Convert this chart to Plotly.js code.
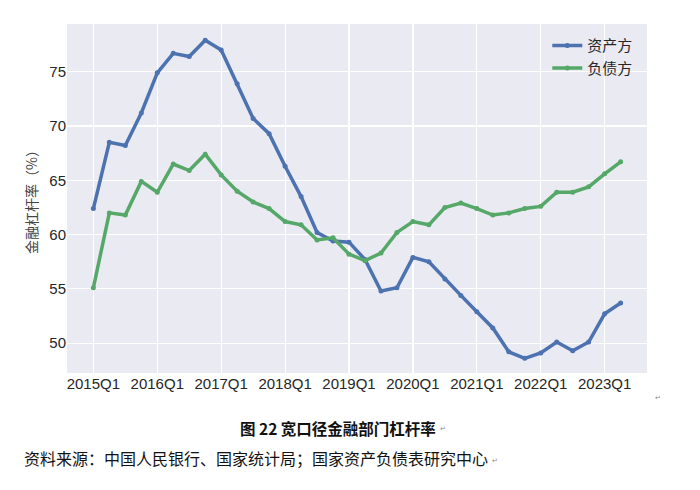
<!DOCTYPE html>
<html>
<head>
<meta charset="utf-8">
<script src="https://cdn.plot.ly/plotly-3.0.1.min.js"></script>
<style>html,body{margin:0;padding:0;background:#fff;}#chart{width:700px;height:490px;}</style>
</head>
<body>
<div id="chart"></div>
<script>
const quarters = ["2015Q1","2015Q2","2015Q3","2015Q4","2016Q1","2016Q2","2016Q3","2016Q4",
"2017Q1","2017Q2","2017Q3","2017Q4","2018Q1","2018Q2","2018Q3","2018Q4",
"2019Q1","2019Q2","2019Q3","2019Q4","2020Q1","2020Q2","2020Q3","2020Q4",
"2021Q1","2021Q2","2021Q3","2021Q4","2022Q1","2022Q2","2022Q3","2022Q4",
"2023Q1","2023Q2"];
const assetSide = [62.4,68.5,68.2,71.2,74.9,76.7,76.4,77.9,77.0,73.9,70.7,69.3,66.3,63.5,60.2,59.4,
59.3,57.7,54.8,55.1,57.9,57.5,55.9,54.4,52.9,51.4,49.2,48.6,49.1,50.1,49.3,50.1,52.7,53.7];
const liabilitySide = [55.1,62.0,61.8,64.9,63.9,66.5,65.9,67.4,65.5,64.0,63.0,62.4,61.2,60.9,59.5,59.7,
58.2,57.6,58.3,60.2,61.2,60.9,62.5,62.9,62.4,61.8,62.0,62.4,62.6,63.9,63.9,64.4,65.6,66.7];
const seriesNames = ["资产方","负债方"];
const tickLabels = ["2015Q1","2016Q1","2017Q1","2018Q1","2019Q1","2020Q1","2021Q1","2022Q1","2023Q1"];
const yTicks = [50,55,60,65,70,75];
const yTitle = "金融杠杆率（%）";
const caption = "图 22 宽口径金融部门杠杆率";
const source = "资料来源：中国人民银行、国家统计局；国家资产负债表研究中心";

const cjk = '"Noto Sans CJK SC", sans-serif';
const latin = '"Liberation Sans", Arial, sans-serif';

const traces = [
  {x: quarters, y: assetSide, name: seriesNames[0], type: 'scatter', mode: 'lines+markers',
   line: {color: '#4C72B0', width: 3.5}, marker: {color: '#4C72B0', size: 5}},
  {x: quarters, y: liabilitySide, name: seriesNames[1], type: 'scatter', mode: 'lines+markers',
   line: {color: '#55A868', width: 3.5}, marker: {color: '#55A868', size: 5}}
];

const layout = {
  width: 700, height: 490,
  margin: {l: 67, r: 53, t: 24, b: 117},
  paper_bgcolor: '#ffffff',
  plot_bgcolor: '#EAEAF2',
  showlegend: true,
  legend: {x: 0.985, y: 0.985, xanchor: 'right', yanchor: 'top', bgcolor: 'rgba(0,0,0,0)',
    font: {family: cjk, size: 15, color: '#262626'}, tracegroupgap: 0},
  xaxis: {
    type: 'category', range: [-1.65, 34.65],
    tickmode: 'array', tickvals: tickLabels, ticktext: tickLabels,
    showgrid: true, gridcolor: '#ffffff', gridwidth: 1.2, zeroline: false,
    showline: false, ticks: '', ticklen: 0,
    tickfont: {family: latin, size: 15, color: '#262626'}
  },
  yaxis: {
    range: [47.25, 79.4], tickmode: 'array', tickvals: yTicks,
    showgrid: true, gridcolor: '#ffffff', gridwidth: 1.2, zeroline: false,
    showline: false, ticks: '',
    tickfont: {family: latin, size: 15, color: '#262626'},
    title: {text: yTitle, font: {family: cjk, size: 14, color: '#444'}, standoff: 8}
  },
  annotations: [
    {xref: 'paper', yref: 'paper', x: 0.4675, y: -0.158, xanchor: 'center', yanchor: 'middle',
     text: '<b>' + caption + '</b>', showarrow: false, font: {family: cjk, size: 15.5, color: '#111'}},
    {xref: 'paper', yref: 'paper', x: -0.077, y: -0.244, xanchor: 'left', yanchor: 'middle',
     text: source, showarrow: false, font: {family: cjk, size: 16, color: '#111'}},
    {xref: 'paper', yref: 'paper', x: 1.01, y: -0.07, xanchor: 'left', yanchor: 'middle',
     text: '↵', showarrow: false, font: {family: latin, size: 7, color: '#888'}},
    {xref: 'paper', yref: 'paper', x: 0.64, y: -0.16, xanchor: 'left', yanchor: 'middle',
     text: '↵', showarrow: false, font: {family: latin, size: 7, color: '#888'}},
    {xref: 'paper', yref: 'paper', x: 0.729, y: -0.25, xanchor: 'left', yanchor: 'middle',
     text: '↵', showarrow: false, font: {family: latin, size: 7, color: '#888'}}
  ]
};

Plotly.newPlot('chart', traces, layout, {displayModeBar: false, staticPlot: true});
</script>
</body>
</html>
